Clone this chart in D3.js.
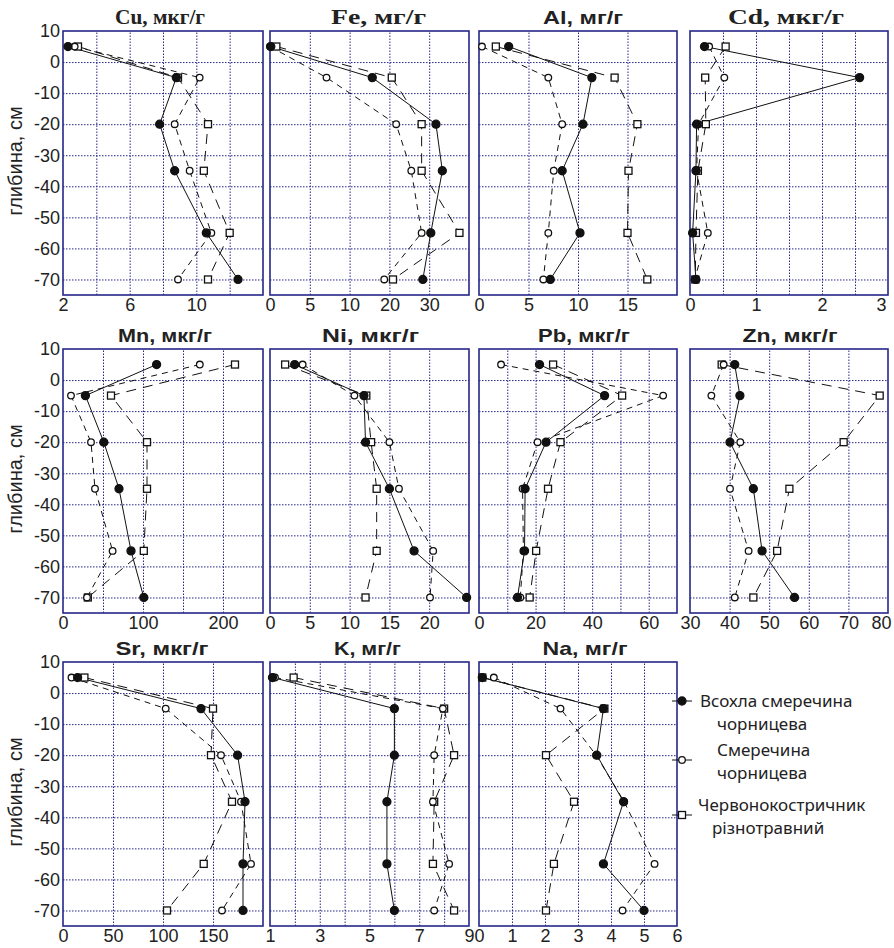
<!DOCTYPE html>
<html>
<head>
<meta charset="utf-8">
<script src="https://cdn.jsdelivr.net/npm/d3@7"></script>
<style>
  body { margin: 0; background: #fff; }
  svg { display: block; }
</style>
</head>
<body>
<svg class="js-chart" width="894" height="948"></svg>
<script>
"use strict";

//data

const depth = [5, -5, -20, -35, -55, -70];
const depthTicks = [10, 0, -10, -20, -30, -40, -50, -60, -70];

const seriesNames = [
  ["Всохла смеречина", "чорницева"],
  ["Смеречина", "чорницева"],
  ["Червонокостричник", "різнотравний"]
];

const elements = ["Cu", "Fe", "Al", "Cd", "Mn", "Ni", "Pb", "Zn", "Sr", "K", "Na"];
const units = ["мкг/г", "мг/г", "мг/г", "мкг/г", "мкг/г", "мкг/г", "мкг/г", "мкг/г", "мкг/г", "мг/г", "мг/г"];

//values per element: [dry spruce, spruce, meadow]

const cu = [[2.3, 8.8, 7.8, 8.7, 10.6, 12.5], [2.7, 10.2, 8.7, 9.6, 10.9, 8.9], [2.9, 8.9, 10.7, 10.45, 12.0, 10.7]];
const fe = [[0.1, 15.7, 31.7, 33.3, 30.4, 28.4], [0, 7.1, 21.7, 25.5, 28.1, 18.7], [0.8, 20.6, 28.1, 28.1, 37.6, 20.9]];
const al = [[3.0, 11.4, 10.5, 8.4, 10.2, 7.2], [0.3, 7.0, 8.4, 7.55, 7.0, 6.5], [1.7, 13.7, 16.0, 15.1, 15.0, 17.0]];
const cd = [[0.22, 2.57, 0.1, 0.09, 0.04, 0.09], [0.29, 0.52, 0.13, 0.1, 0.27, 0.07], [0.54, 0.23, 0.24, 0.12, 0.09, 0.08]];
const mn = [[117, 28, 51, 70, 85, 101], [171, 10, 35, 40, 62, 30], [215, 60, 105, 105, 101, 31]];
const ni = [[3.1, 11.8, 12.0, 15.0, 18.1, 24.7], [4.1, 10.6, 15.0, 16.2, 20.5, 20.1], [1.9, 12.1, 12.7, 13.4, 13.4, 12.0]];
const pb = [[21.4, 44.4, 23.7, 16.3, 16.1, 13.6], [7.8, 65.1, 20.7, 15.4, 15.7, 14.6], [26.2, 50.6, 28.8, 24.4, 20.2, 17.9]];
const zn = [[41.3, 42.6, 40.1, 46.0, 48.2, 56.4], [38.5, 35.4, 42.7, 40.1, 44.8, 41.3], [38.0, 77.9, 68.8, 55.1, 52.0, 46.0]];
const sr = [[14.6, 138, 174.6, 182, 180, 180], [8.5, 102.7, 158, 178, 188, 159], [21.4, 150, 148, 169, 140.7, 104]];
const k = [[1.1, 6.0, 6.0, 5.7, 5.7, 6.0], [1.2, 7.95, 7.6, 7.55, 8.2, 7.6], [1.95, 8.0, 8.4, 7.6, 7.55, 8.4]];
const na = [[0.1, 3.77, 3.57, 4.38, 3.77, 5.0], [0.45, 2.47, 3.55, 4.4, 5.32, 4.35], [0.1, 3.8, 2.03, 2.88, 2.27, 2.03]];

//x domains, grid lines, tick labels

const domains = [[2, 14], [0, 5, 10, 20, 30, 40], [0, 20], [0, 3], [0, 250], [0, 25], [0, 70], [30, 80], [0, 200], [1, 9], [0, 6]];
const grids = [
  [4, 6, 8, 10, 12], [5, 10, 20, 30], [5, 10, 15], [0.5, 1, 1.5, 2, 2.5], [50, 100, 150, 200],
  [5, 10, 15, 20], [10, 20, 30, 40, 50, 60], [40, 50, 60, 70], [50, 100, 150], [2, 3, 4, 5, 6, 7, 8], [1, 2, 3, 4, 5]
];
const ticks = [
  [2, 6, 10], [0, 5, 10, 20, 30], [0, 5, 10, 15], [0, 1, 2, 3], [0, 100, 200],
  [0, 5, 10, 15, 20], [0, 20, 40, 60], [30, 40, 50, 60, 70, 80], [0, 50, 100, 150], [1, 3, 5, 7, 9], [0, 1, 2, 3, 4, 5, 6]
];

const values = [cu, fe, al, cd, mn, ni, pb, zn, sr, k, na];

//layout

const layout = {
  cols: [[63, 263], [270, 469], [479, 677], [690, 888]],
  rows: [[31, 295], [349, 613], [662, 926]],
  serif: ["Cu", "Fe", "Cd"],
  titleW: [90, 95, 80, 116, 94, 97, 92, 95, 93, 67, 85],
  titleDx: [-3, 9, 5, -3, 2, 1, 6, 1, -1, -2, 7],
  frame: "#26268a",
  dash: [null, "6,5", "10,7"]
};

const svg = d3.select(".js-chart");

//markers

const drawMarkers = (g, pts, s) => {

  if (s === 2) {

    g.append("g").selectAll("rect")
      .data(pts)
      .enter()
      .append("rect")
      .attr("x", (d) => d[0] - 3.5)
      .attr("y", (d) => d[1] - 3.5)
      .attr("width", 7)
      .attr("height", 7)
      .attr("fill", "#fff")
      .attr("stroke", "#111")
      .attr("stroke-width", 1.3);

  } else {

    g.append("g").selectAll("circle")
      .data(pts)
      .enter()
      .append("circle")
      .attr("cx", (d) => d[0])
      .attr("cy", (d) => d[1])
      .attr("r", s === 0 ? 4 : 3.3)
      .attr("fill", s === 0 ? "#111" : "#fff")
      .attr("stroke", "#111")
      .attr("stroke-width", 1.3);

  }

};

//panel

const drawPanel = (i) => {

  const col = i % 4;
  const row = Math.floor(i / 4);
  const [x0, x1] = layout.cols[col];
  const [y0, y1] = layout.rows[row];
  const dom = domains[i];

  const x = d3.scaleLinear()
    .domain(dom)
    .range(dom.map((d, j) => x0 + (x1 - x0) * j / (dom.length - 1)));

  const y = d3.scaleLinear().domain([-75, 10]).range([y1, y0]);

  const g = svg.append("g");

  //grid

  g.append("g")
    .attr("transform", `translate(0,${y1})`)
    .call(d3.axisBottom(x).tickValues(grids[i]).tickSize(-(y1 - y0)).tickFormat(""))
    .call((s) => s.select(".domain").remove())
    .selectAll("line")
    .attr("stroke", layout.frame)
    .attr("stroke-width", 1)
    .attr("stroke-dasharray", "1.5,1.5");

  g.append("g")
    .attr("transform", `translate(${x0},0)`)
    .call(d3.axisLeft(y).tickValues(depthTicks.slice(1)).tickSize(-(x1 - x0)).tickFormat(""))
    .call((s) => s.select(".domain").remove())
    .selectAll("line")
    .attr("stroke", layout.frame)
    .attr("stroke-width", 1)
    .attr("stroke-dasharray", "1.5,1.5");

  //frame

  g.append("rect")
    .attr("x", x0)
    .attr("y", y0)
    .attr("width", x1 - x0)
    .attr("height", y1 - y0)
    .attr("fill", "none")
    .attr("stroke", layout.frame)
    .attr("stroke-width", 1.6);

  //x tick labels

  const last = ticks[i][ticks[i].length - 1];

  g.append("g")
    .attr("transform", `translate(0,${y1})`)
    .call(d3.axisBottom(x).tickValues(ticks[i]).tickSize(0).tickPadding(3).tickFormat(d3.format("")))
    .call((s) => s.select(".domain").remove())
    .selectAll("text")
    .attr("font-family", "Liberation Sans, Arial, sans-serif")
    .attr("font-size", 18)
    .attr("fill", "#222")
    .attr("dx", (d) => (col === 3 && d === last && x(d) + 12 > 893 ? -7 : 0));

  //y tick labels

  if (col === 0) {

    g.append("g")
      .attr("transform", `translate(${x0},0)`)
      .call(d3.axisLeft(y).tickValues(depthTicks).tickSize(0).tickPadding(3))
      .call((s) => s.select(".domain").remove())
      .selectAll("text")
      .attr("font-family", "Liberation Sans, Arial, sans-serif")
      .attr("font-size", 18)
      .attr("fill", "#222")
      .text((d) => String(d).replace("\u2212", "-"));

    g.append("text")
      .attr("transform", `translate(22,${(y0 + y1) / 2 - 2}) rotate(-90)`)
      .attr("text-anchor", "middle")
      .attr("font-family", "Liberation Sans, Arial, sans-serif")
      .attr("font-size", 20)
      .attr("fill", "#222")
      .text("глибина, см");

  }

  //title

  const serif = layout.serif.includes(elements[i]);

  g.append("text")
    .attr("x", (x0 + x1) / 2 + layout.titleDx[i])
    .attr("y", y0 - 7)
    .attr("text-anchor", "middle")
    .attr("font-family", serif ? "Liberation Serif, serif" : "Liberation Sans, Arial, sans-serif")
    .attr("font-weight", "bold")
    .attr("font-size", serif ? 20 : 19)
    .attr("textLength", layout.titleW[i])
    .attr("lengthAdjust", "spacingAndGlyphs")
    .attr("fill", "#222")
    .text(`${elements[i]}, ${units[i]}`);

  //lines

  const line = d3.line().x((d) => x(d[0])).y((d) => y(d[1]));

  [2, 1, 0].forEach((s) => {

    const pts = values[i][s].map((v, j) => [v, depth[j]]);

    g.append("path")
      .datum(pts)
      .attr("d", line)
      .attr("fill", "none")
      .attr("stroke", "#111")
      .attr("stroke-width", 1)
      .attr("stroke-dasharray", layout.dash[s]);

  });

  //markers

  [2, 1, 0].forEach((s) => {

    const pts = values[i][s].map((v, j) => [x(v), y(depth[j])]);

    drawMarkers(g, pts, s);

  });

};

elements.forEach((d, i) => drawPanel(i));

//legend

const legendRows = [
  { my: 701, lines: [[700, 707], [717, 730]] },
  { my: 760, lines: [[717, 756], [717, 779]] },
  { my: 815, lines: [[698, 811], [712, 834]] }
];

legendRows.forEach((r, s) => {

  const g = svg.append("g");

  g.append("line")
    .attr("x1", 672)
    .attr("x2", 692)
    .attr("y1", r.my)
    .attr("y2", r.my)
    .attr("stroke", "#111")
    .attr("stroke-width", 1);

  drawMarkers(g, [[682, r.my]], s);

  r.lines.forEach((p, j) => {
    g.append("text")
      .attr("x", p[0])
      .attr("y", p[1])
      .attr("font-family", "Noto Sans, sans-serif")
      .attr("font-size", 17)
      .attr("fill", "#222")
      .text(seriesNames[s][j]);
  });

});
</script>
</body>
</html>
